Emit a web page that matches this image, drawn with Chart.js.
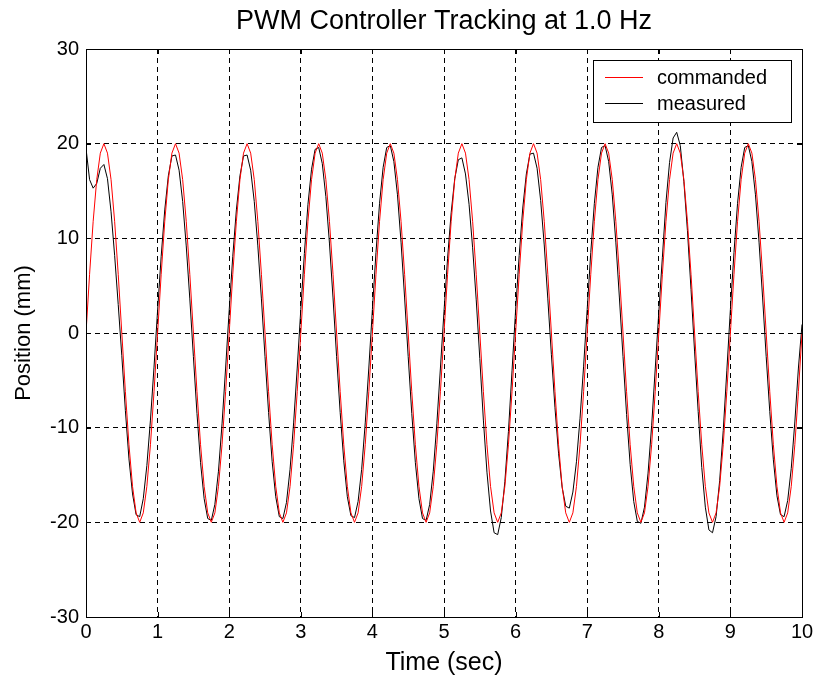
<!DOCTYPE html>
<html>
<head>
<meta charset="utf-8">
<title>PWM Controller Tracking at 1.0 Hz</title>
<script src="https://cdn.jsdelivr.net/npm/chart.js@4/dist/chart.umd.min.js"></script>
<style>
  html, body { margin: 0; padding: 0; background: #fff; }
  canvas { display: block; }
</style>
</head>
<body>
<canvas id="chart" width="818" height="687"></canvas>
<script>
// sample times (sec), 0.05 s apart
const timeSec = [
  0.00, 0.05, 0.10, 0.15, 0.20, 0.25, 0.30, 0.35, 0.40, 0.45, 0.50, 0.55, 0.60, 0.65, 0.70, 0.75, 0.80, 0.85, 0.90, 0.95,
  1.00, 1.05, 1.10, 1.15, 1.20, 1.25, 1.30, 1.35, 1.40, 1.45, 1.50, 1.55, 1.60, 1.65, 1.70, 1.75, 1.80, 1.85, 1.90, 1.95,
  2.00, 2.05, 2.10, 2.15, 2.20, 2.25, 2.30, 2.35, 2.40, 2.45, 2.50, 2.55, 2.60, 2.65, 2.70, 2.75, 2.80, 2.85, 2.90, 2.95,
  3.00, 3.05, 3.10, 3.15, 3.20, 3.25, 3.30, 3.35, 3.40, 3.45, 3.50, 3.55, 3.60, 3.65, 3.70, 3.75, 3.80, 3.85, 3.90, 3.95,
  4.00, 4.05, 4.10, 4.15, 4.20, 4.25, 4.30, 4.35, 4.40, 4.45, 4.50, 4.55, 4.60, 4.65, 4.70, 4.75, 4.80, 4.85, 4.90, 4.95,
  5.00, 5.05, 5.10, 5.15, 5.20, 5.25, 5.30, 5.35, 5.40, 5.45, 5.50, 5.55, 5.60, 5.65, 5.70, 5.75, 5.80, 5.85, 5.90, 5.95,
  6.00, 6.05, 6.10, 6.15, 6.20, 6.25, 6.30, 6.35, 6.40, 6.45, 6.50, 6.55, 6.60, 6.65, 6.70, 6.75, 6.80, 6.85, 6.90, 6.95,
  7.00, 7.05, 7.10, 7.15, 7.20, 7.25, 7.30, 7.35, 7.40, 7.45, 7.50, 7.55, 7.60, 7.65, 7.70, 7.75, 7.80, 7.85, 7.90, 7.95,
  8.00, 8.05, 8.10, 8.15, 8.20, 8.25, 8.30, 8.35, 8.40, 8.45, 8.50, 8.55, 8.60, 8.65, 8.70, 8.75, 8.80, 8.85, 8.90, 8.95,
  9.00, 9.05, 9.10, 9.15, 9.20, 9.25, 9.30, 9.35, 9.40, 9.45, 9.50, 9.55, 9.60, 9.65, 9.70, 9.75, 9.80, 9.85, 9.90, 9.95,
  10.00
];

// commanded position (mm)
const commanded = [
  0, 6.2, 11.8, 16.2, 19.0, 20.0, 19.0, 16.2, 11.8, 6.2, 0, -6.2, -11.8, -16.2, -19.0, -20.0, -19.0, -16.2, -11.8, -6.2,
  0, 6.2, 11.8, 16.2, 19.0, 20.0, 19.0, 16.2, 11.8, 6.2, 0, -6.2, -11.8, -16.2, -19.0, -20.0, -19.0, -16.2, -11.8, -6.2,
  0, 6.2, 11.8, 16.2, 19.0, 20.0, 19.0, 16.2, 11.8, 6.2, 0, -6.2, -11.8, -16.2, -19.0, -20.0, -19.0, -16.2, -11.8, -6.2,
  0, 6.2, 11.8, 16.2, 19.0, 20.0, 19.0, 16.2, 11.8, 6.2, 0, -6.2, -11.8, -16.2, -19.0, -20.0, -19.0, -16.2, -11.8, -6.2,
  0, 6.2, 11.8, 16.2, 19.0, 20.0, 19.0, 16.2, 11.8, 6.2, 0, -6.2, -11.8, -16.2, -19.0, -20.0, -19.0, -16.2, -11.8, -6.2,
  0, 6.2, 11.8, 16.2, 19.0, 20.0, 19.0, 16.2, 11.8, 6.2, 0, -6.2, -11.8, -16.2, -19.0, -20.0, -19.0, -16.2, -11.8, -6.2,
  0, 6.2, 11.8, 16.2, 19.0, 20.0, 19.0, 16.2, 11.8, 6.2, 0, -6.2, -11.8, -16.2, -19.0, -20.0, -19.0, -16.2, -11.8, -6.2,
  0, 6.2, 11.8, 16.2, 19.0, 20.0, 19.0, 16.2, 11.8, 6.2, 0, -6.2, -11.8, -16.2, -19.0, -20.0, -19.0, -16.2, -11.8, -6.2,
  0, 6.2, 11.8, 16.2, 19.0, 20.0, 19.0, 16.2, 11.8, 6.2, 0, -6.2, -11.8, -16.2, -19.0, -20.0, -19.0, -16.2, -11.8, -6.2,
  0, 6.2, 11.8, 16.2, 19.0, 20.0, 19.0, 16.2, 11.8, 6.2, 0, -6.2, -11.8, -16.2, -19.0, -20.0, -19.0, -16.2, -11.8, -6.2,
  0
];

// measured position (mm)
const measured = [
  19.5, 16.2, 15.3, 15.8, 17.4, 17.8, 16.3, 12.8, 8.2, 3.0, -2.4, -8.2, -13.3, -17.0, -19.2, -19.4, -17.5, -14.0, -9.2, -3.6,
  2.4, 8.1, 13.0, 16.6, 18.7, 18.8, 17.2, 13.9, 9.2, 3.6, -2.5, -8.5, -13.7, -17.5, -19.6, -19.8, -18.1, -14.6, -9.6, -3.7,
  2.4, 8.1, 13.0, 16.6, 18.7, 18.8, 17.2, 13.9, 9.2, 3.6, -2.5, -8.4, -13.6, -17.3, -19.4, -19.6, -17.9, -14.4, -9.5, -3.7,
  2.5, 8.4, 13.6, 17.3, 19.4, 19.6, 17.9, 14.4, 9.5, 3.7, -2.5, -8.4, -13.5, -17.3, -19.3, -19.5, -17.8, -14.4, -9.5, -3.7,
  2.5, 8.5, 13.7, 17.5, 19.6, 19.8, 18.1, 14.6, 9.6, 3.7, -2.5, -8.5, -13.7, -17.5, -19.6, -19.8, -18.1, -14.6, -9.6, -3.7,
  2.3, 7.9, 12.7, 16.3, 18.3, 18.5, 16.8, 13.6, 9.0, 3.5, -2.7, -9.2, -14.7, -18.8, -21.1, -21.3, -19.5, -15.7, -10.4, -4.0,
  2.4, 8.2, 13.2, 16.8, 18.9, 19.0, 17.4, 14.0, 9.3, 3.6, -2.3, -7.9, -12.7, -16.3, -18.3, -18.5, -16.8, -13.6, -9.0, -3.5,
  2.5, 8.5, 13.7, 17.5, 19.6, 19.8, 18.1, 14.6, 9.6, 3.7, -2.5, -8.6, -13.9, -17.8, -19.9, -20.1, -18.4, -14.8, -9.8, -3.8,
  2.2, 8.0, 13.8, 18.0, 20.6, 21.2, 19.8, 16.0, 10.8, 4.6, -2.0, -8.3, -14.2, -18.4, -20.8, -21.1, -19.4, -15.6, -10.3, -4.0,
  2.5, 8.5, 13.7, 17.5, 19.6, 19.8, 18.1, 14.6, 9.6, 3.7, -2.5, -8.3, -13.4, -17.2, -19.2, -19.4, -17.7, -14.3, -9.4, -3.7,
  0.9
];

const xTicks = [0, 1, 2, 3, 4, 5, 6, 7, 8, 9, 10];
const yTicks = [-30, -20, -10, 0, 10, 20, 30];
const chartTitle = 'PWM Controller Tracking at 1.0 Hz';

const FONT = 'Liberation Sans, Arial, Helvetica, sans-serif';

// title centred over the plot box (not the whole canvas), matlab style
const axesTitle = {
  id: 'axesTitle',
  afterDraw(chart) {
    const { ctx, chartArea: a } = chart;
    ctx.save();
    ctx.fillStyle = '#000';
    ctx.font = '27px ' + FONT;
    ctx.textAlign = 'center';
    ctx.textBaseline = 'middle';
    ctx.fillText(chartTitle, (a.left + a.right) / 2, 22);
    ctx.restore();
  }
};

// black frame + inward ticks on all four sides
const frameAndTicks = {
  id: 'frameAndTicks',
  afterDatasetsDraw(chart) {
    const { ctx, chartArea: a, scales } = chart;
    const len = 5;
    ctx.save();
    ctx.strokeStyle = '#000';
    ctx.lineWidth = 1;
    ctx.setLineDash([]);
    ctx.beginPath();
    xTicks.forEach((v) => {
      const px = Math.round(scales.x.getPixelForValue(v)) + 0.5;
      ctx.moveTo(px, a.bottom); ctx.lineTo(px, a.bottom - len);
      ctx.moveTo(px, a.top); ctx.lineTo(px, a.top + len);
    });
    yTicks.forEach((v) => {
      const py = Math.round(scales.y.getPixelForValue(v)) + 0.5;
      ctx.moveTo(a.left, py); ctx.lineTo(a.left + len, py);
      ctx.moveTo(a.right, py); ctx.lineTo(a.right - len, py);
    });
    ctx.stroke();
    ctx.strokeRect(Math.round(a.left) + 0.5, Math.round(a.top) + 0.5,
      Math.round(a.right - a.left), Math.round(a.bottom - a.top));
    ctx.restore();
  }
};

// boxed legend in the upper right corner of the plot
const boxLegend = {
  id: 'boxLegend',
  afterDraw(chart) {
    const { ctx, chartArea: a } = chart;
    const w = 198, h = 62;
    const left = a.right - 11 - w;
    const top = a.top + 11;
    ctx.save();
    ctx.fillStyle = '#fff';
    ctx.fillRect(left, top, w, h);
    ctx.strokeStyle = '#000';
    ctx.lineWidth = 1;
    ctx.setLineDash([]);
    ctx.strokeRect(Math.round(left) + 0.5, Math.round(top) + 0.5, w, h);
    ctx.font = '20px ' + FONT;
    ctx.textBaseline = 'middle';
    chart.data.datasets.forEach((ds, i) => {
      const y = Math.round(top + 17 + i * 26) + 0.5;
      ctx.strokeStyle = ds.borderColor;
      ctx.beginPath();
      ctx.moveTo(left + 12, y);
      ctx.lineTo(left + 50, y);
      ctx.stroke();
      ctx.fillStyle = '#000';
      ctx.fillText(ds.label, left + 64, y + 1);
    });
    ctx.restore();
  }
};

const points = (vals) => vals.map((v, i) => ({ x: timeSec[i], y: v }));

new Chart(document.getElementById('chart'), {
  type: 'line',
  data: {
    datasets: [
      {
        label: 'commanded',
        data: points(commanded),
        borderColor: '#ff0000',
        borderWidth: 1,
        pointRadius: 0,
        tension: 0
      },
      {
        label: 'measured',
        data: points(measured),
        borderColor: '#000000',
        borderWidth: 1,
        pointRadius: 0,
        tension: 0
      }
    ]
  },
  options: {
    responsive: false,
    animation: false,
    events: [],
    layout: { padding: { left: 0, right: 16, top: 49, bottom: 0 } },
    plugins: {
      legend: { display: false },
      tooltip: { enabled: false }
    },
    scales: {
      x: {
        type: 'linear',
        min: 0,
        max: 10,
        afterBuildTicks: (scale) => { scale.ticks = xTicks.map((v) => ({ value: v })); },
        afterFit: (scale) => { scale.height = 70; },
        ticks: { color: '#000', font: { family: FONT, size: 20 }, padding: 3, maxRotation: 0 },
        grid: { color: '#000', lineWidth: 1, drawTicks: false },
        border: { display: false, dash: [5, 4] },
        title: {
          display: true,
          text: 'Time (sec)',
          color: '#000',
          font: { family: FONT, size: 25 },
          padding: { top: 0, bottom: 9 }
        }
      },
      y: {
        min: -30,
        max: 30,
        afterBuildTicks: (scale) => { scale.ticks = yTicks.map((v) => ({ value: v })); },
        afterFit: (scale) => { scale.width = 86; },
        ticks: { color: '#000', font: { family: FONT, size: 20 }, padding: 7 },
        grid: { color: '#000', lineWidth: 1, drawTicks: false },
        border: { display: false, dash: [5, 4] },
        title: {
          display: true,
          text: 'Position (mm)',
          color: '#000',
          font: { family: FONT, size: 22 },
          padding: { top: 11, bottom: 0 }
        }
      }
    }
  },
  plugins: [frameAndTicks, boxLegend, axesTitle]
});
</script>
</body>
</html>
